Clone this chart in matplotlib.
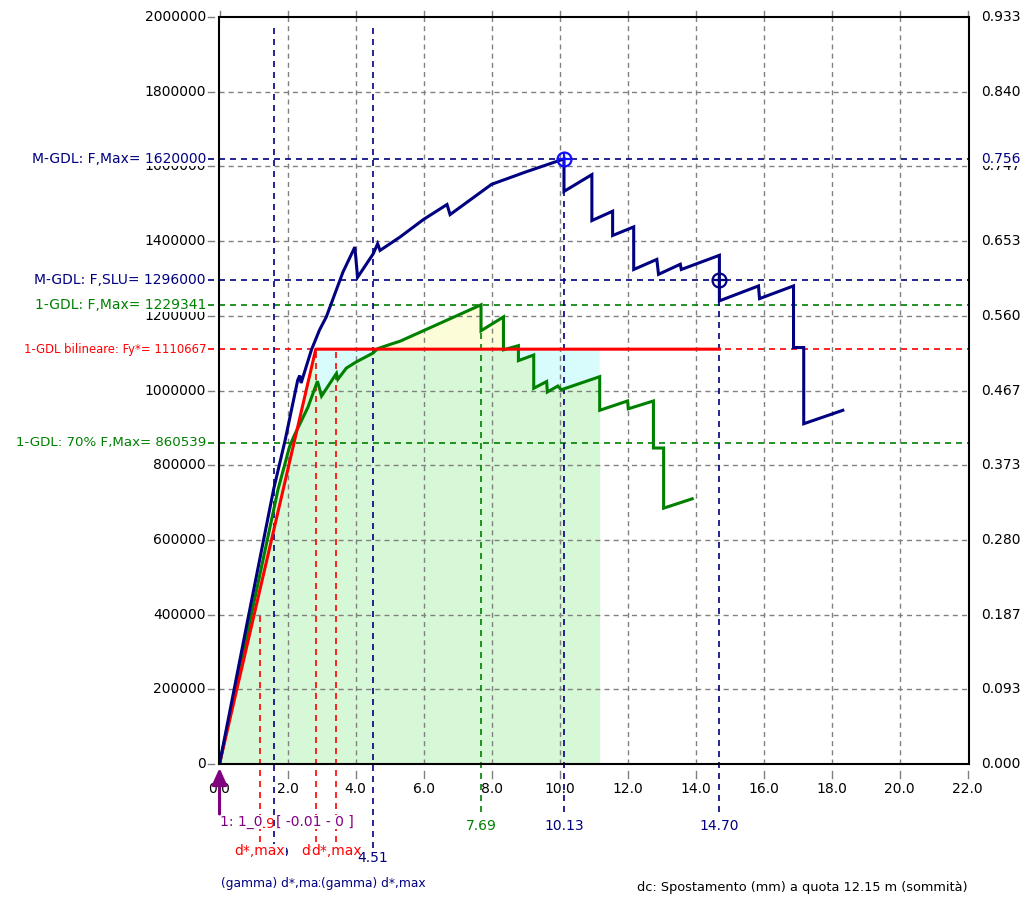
import numpy as np
import matplotlib
matplotlib.use('Agg')
import matplotlib.pyplot as plt

# ---------------- data ----------------
mgdl_x = [0, 0.8, 1.59, 1.93, 2.3, 2.36, 2.40, 2.7, 2.94, 3.14, 3.63, 3.98, 4.06,
          4.52, 4.65, 4.72, 5.31, 6.0, 6.69, 6.78, 8.0, 9.0, 10.13, 10.13, 10.95,
          10.95, 11.56, 11.56, 12.18, 12.18, 12.86, 12.91, 13.55, 13.58, 14.70,
          14.70, 15.85, 15.88, 16.88, 16.88, 17.18, 17.18, 18.33]
mgdl_f = [0, 372000, 735000, 867000, 1028000, 1040000, 1020000, 1108000, 1162000,
          1197000, 1317000, 1384000, 1303000, 1366000, 1393000, 1375000, 1411000,
          1458000, 1498000, 1471000, 1552000, 1585000, 1620000, 1533000, 1578000,
          1455000, 1480000, 1415000, 1438000, 1324000, 1351000, 1311000, 1338000,
          1324000, 1362000, 1240000, 1280000, 1246000, 1280000, 1115000, 1115000,
          911000, 947000]

gdl1_x = [0, 0.85, 1.72, 2.06, 2.2, 2.6, 2.88, 3.0, 3.44, 3.48, 3.73, 4.03, 4.51,
          4.65, 5.07, 5.31, 7.69, 7.69, 8.35, 8.35, 8.79, 8.79, 9.24, 9.24, 9.62,
          9.64, 9.95, 10.05, 11.18, 11.18, 12.0, 12.02, 12.76, 12.76, 13.06, 13.06,
          13.9]
gdl1_f = [0, 363000, 735000, 850000, 880000, 955000, 1025000, 985000, 1046000,
          1030000, 1060000, 1077000, 1100000, 1112000, 1125000, 1132000, 1229341,
          1160000, 1197000, 1109000, 1120000, 1080000, 1095000, 1006000, 1024000,
          996000, 1012000, 1002000, 1037000, 947000, 972000, 951000, 972000,
          846000, 846000, 685000, 710000]

fy_star = 1110667      # 1-GDL bilineare Fy*
dy_star = 2.83         # yield displacement of bilinear
du_bil = 14.70         # end of bilinear plateau
f_max_m, d_max_m = 1620000, 10.13
f_slu_m, d_slu_m = 1296000, 14.70
f_max_1, d_max_1 = 1229341, 7.69
f_70_1 = 860539
d_gamma = [1.59, 4.51]
d_red = [1.19, 2.83, 3.43]
fill_end = 11.18

x_ticks = [0, 2, 4, 6, 8, 10, 12, 14, 16, 18, 20, 22]
x_tick_labels = ['0.0', '2.0', '4.0', '6.0', '8.0', '10.0', '12.0', '14.0',
                 '16.0', '18.0', '20.0', '22.0']
y_ticks = [0, 200000, 400000, 600000, 800000, 1000000, 1200000, 1400000,
           1600000, 1800000, 2000000]
y_tick_labels = ['0', '200000', '400000', '600000', '800000', '1000000',
                 '1200000', '1400000', '1600000', '1800000', '2000000']
y2_tick_labels = ['0.000', '0.093', '0.187', '0.280', '0.373', '0.467', '0.560',
                  '0.653', '0.747', '0.840', '0.933']

# ---------------- colours ----------------
NAVY = '#000080'
BLUE = '#1010ff'
GREEN = '#008000'
RED = '#ff0000'
PURPLE = '#800080'
GRAY = '#808080'
FILL_GREEN = '#d6f8d6'
FILL_CYAN = '#d8fcfc'
FILL_YELLOW = '#fcfcd8'

plt.rcParams['font.family'] = ['DejaVu Sans']
FS = 10

W, H = 1026, 900
fig = plt.figure(figsize=(W / 100, H / 100), dpi=100)
L, R, T, B = 219, 969, 17, 764
ax = fig.add_axes([L / W, 1 - B / H, (R - L) / W, (B - T) / H])
ax.set_xlim(-0.015, 22.04)
ax.set_ylim(0, 2000000)
ax.set_xticks([])
ax.set_yticks([])
for s in ax.spines.values():
    s.set_color('black')
    s.set_linewidth(1.5)
    s.set_zorder(8)


def axx(px):
    return (px - L) / (R - L)


def axy(py):
    return (B - py) / (B - T)


xt = ax.get_xaxis_transform()
yt = ax.get_yaxis_transform()
ta = ax.transAxes
DASH = (0, (3.6, 3.0))

# ---------------- fills ----------------
gx = np.array(gdl1_x, dtype=float)
gf = np.array(gdl1_f, dtype=float)
k = int(np.where(gx >= fill_end)[0][0])
fx = gx[:k + 1]
ff = gf[:k + 1]
ax.fill_between(fx, 0, ff, color=FILL_GREEN, lw=0, zorder=1)
sel = fx >= dy_star
px_ = np.concatenate([[dy_star], fx[sel]])
pf_ = np.concatenate([[np.interp(dy_star, gx[5:7], gf[5:7])], ff[sel]])
ax.fill_between(px_, pf_, fy_star, where=pf_ <= fy_star, interpolate=True,
                color=FILL_CYAN, lw=0, zorder=1)
ax.fill_between(px_, fy_star, pf_, where=pf_ >= fy_star, interpolate=True,
                color=FILL_YELLOW, lw=0, zorder=1)
ax.fill_between([0, dy_star], [0, 0], [0, fy_star], color=FILL_GREEN, lw=0, zorder=1)

# ---------------- grid (extends outside the frame like ticks) ----------------
for x in x_ticks[1:-1]:
    ax.plot([x, x], [0, 1], transform=xt, color=GRAY, lw=1.0, ls=DASH, zorder=2)
for x in x_ticks:
    ax.plot([x, x], [axy(771), axy(778)], transform=xt, color=GRAY, lw=1.0,
            clip_on=False, zorder=2)
    ax.plot([x, x], [axy(11), axy(16)], transform=xt, color=GRAY, lw=1.0,
            clip_on=False, zorder=2)
for y in y_ticks[1:-1]:
    ax.plot([0, 1], [y, y], transform=yt, color=GRAY, lw=1.0, ls=DASH, zorder=2)
for y in y_ticks:
    ax.plot([axx(208), axx(214)], [y, y], transform=yt, color=GRAY, lw=1.0,
            clip_on=False, zorder=2)

# ---------------- reference lines ----------------
hlines = [(f_max_m, NAVY), (f_slu_m, NAVY), (f_max_1, GREEN), (fy_star, RED),
          (f_70_1, GREEN)]
for y, c in hlines:
    ax.plot([axx(208), 1.0], [y, y], transform=yt, color=c, lw=1.2, ls=DASH,
            clip_on=False, zorder=3)

for d in d_gamma:
    ax.plot([d, d], [axy(848), axy(24)], transform=xt, color=NAVY, lw=1.2,
            ls=DASH, clip_on=False, zorder=3)
ax.plot([d_red[0]] * 2, [axy(842), 400000 / 2e6], transform=xt, color=RED,
        lw=1.2, ls=DASH, clip_on=False, zorder=3)
for d in d_red[1:]:
    ax.plot([d, d], [axy(842), fy_star / 2e6], transform=xt, color=RED, lw=1.2,
            ls=DASH, clip_on=False, zorder=3)
ax.plot([d_max_1] * 2, [axy(812), f_max_1 / 2e6], transform=xt, color=GREEN,
        lw=1.2, ls=DASH, clip_on=False, zorder=3)
ax.plot([d_max_m] * 2, [axy(812), f_max_m / 2e6], transform=xt, color=NAVY,
        lw=1.2, ls=DASH, clip_on=False, zorder=3)
ax.plot([d_slu_m] * 2, [axy(812), f_slu_m / 2e6], transform=xt, color=NAVY,
        lw=1.2, ls=DASH, clip_on=False, zorder=3)

# ---------------- curves ----------------
ax.plot(gdl1_x, gdl1_f, color=GREEN, lw=2.2, zorder=5, solid_joinstyle='miter')
ax.plot([0, dy_star, du_bil], [0, fy_star, fy_star], color=RED, lw=2.2, zorder=6)
ax.plot(mgdl_x, mgdl_f, color=NAVY, lw=2.2, zorder=6, solid_joinstyle='miter')

ax.plot([d_max_m], [f_max_m], marker='o', ms=10, mfc='none', mec=BLUE, mew=1.6,
        zorder=7, clip_on=False)
ax.plot([d_max_m], [f_max_m], marker='+', ms=10, mec=BLUE, mew=1.6, zorder=7)
ax.plot([d_slu_m], [f_slu_m], marker='o', ms=10, mfc='none', mec=NAVY, mew=1.6,
        zorder=7)
ax.plot([d_slu_m], [f_slu_m], marker='+', ms=10, mec=NAVY, mew=1.6, zorder=7)

# ---------------- tick labels ----------------
WB = dict(facecolor='white', edgecolor='none', pad=0.15)
WB2 = dict(facecolor='white', edgecolor='none', pad=0.35)
for y, lab in zip(y_ticks, y_tick_labels):
    ax.text(axx(206), y, lab, transform=yt, ha='right', va='center', fontsize=FS,
            color='black', clip_on=False, zorder=9)
for y, lab in zip(y_ticks, y2_tick_labels):
    ax.text(axx(981), y, lab, transform=yt, ha='left', va='center', fontsize=FS,
            color='black', clip_on=False, zorder=9)
for x, lab in zip(x_ticks, x_tick_labels):
    ax.text(x, axy(789), lab, transform=xt, ha='center', va='center', fontsize=FS,
            color='black', clip_on=False, zorder=9)

left_labels = [(f_max_m, 'M-GDL: F,Max= 1620000', NAVY, FS),
               (f_slu_m, 'M-GDL: F,SLU= 1296000', NAVY, FS),
               (f_max_1, '1-GDL: F,Max= 1229341', GREEN, FS),
               (fy_star, '1-GDL bilineare: Fy*= 1110667', RED, 8.4),
               (f_70_1, '1-GDL: 70% F,Max= 860539', GREEN, 9.6)]
for y, lab, c, fs in left_labels:
    ax.text(axx(206), y, lab, transform=yt, ha='right', va='center', fontsize=fs,
            color=c, clip_on=False, zorder=10, bbox=WB)
ax.text(axx(981), f_max_m, '0.756', transform=yt, ha='left', va='center',
        fontsize=FS, color=NAVY, clip_on=False, zorder=10, bbox=WB)

# ---------------- bottom annotations ----------------
for d in d_red:
    ax.text(d, axy(824), '%.2f' % d, transform=xt, ha='center', va='center',
            fontsize=FS, color=RED, clip_on=False, zorder=9)
ax.text(axx(220), axy(822), '1: 1_0', transform=ta, ha='left', va='center',
        fontsize=FS, color=PURPLE, clip_on=False, zorder=10, bbox=WB2)
ax.text(axx(276), axy(822), '[ -0.01 - 0 ]', transform=ta, ha='left',
        va='center', fontsize=FS, color=PURPLE, clip_on=False, zorder=10, bbox=WB2)

ax.text(d_gamma[0], axy(853), '1.59', transform=xt, ha='center', va='center',
        fontsize=FS, color=NAVY, clip_on=False, zorder=9)
ax.text(d_red[0], axy(851), 'd*,max', transform=xt, ha='center', va='center',
        fontsize=FS, color=RED, clip_on=False, zorder=10, bbox=WB2)
ax.text(d_red[1], axy(851), 'd*,y', transform=xt, ha='center', va='center',
        fontsize=FS, color=RED, clip_on=False, zorder=10, bbox=WB)
ax.text(d_red[2], axy(851), 'd*,max', transform=xt, ha='center', va='center',
        fontsize=FS, color=RED, clip_on=False, zorder=10, bbox=WB)
ax.text(d_gamma[1], axy(858), '4.51', transform=xt, ha='center', va='center',
        fontsize=FS, color=NAVY, clip_on=False, zorder=10)
ax.text(d_gamma[0], axy(883), '(gamma) d*,max', transform=xt, ha='center',
        va='center', fontsize=8.8, color=NAVY, clip_on=False, zorder=10, bbox=WB)
ax.text(d_gamma[1], axy(883), '(gamma) d*,max', transform=xt, ha='center',
        va='center', fontsize=8.8, color=NAVY, clip_on=False, zorder=10, bbox=WB)

ax.text(d_max_1, axy(826), '7.69', transform=xt, ha='center', va='center',
        fontsize=FS, color=GREEN, clip_on=False, zorder=10)
ax.text(d_max_m, axy(826), '10.13', transform=xt, ha='center', va='center',
        fontsize=FS, color=NAVY, clip_on=False, zorder=10)
ax.text(d_slu_m, axy(826), '14.70', transform=xt, ha='center', va='center',
        fontsize=FS, color=NAVY, clip_on=False, zorder=10)

fig.text(968 / W, 1 - 887 / H, 'dc: Spostamento (mm) a quota 12.15 m (sommità)',
         ha='right', va='center', fontsize=9.3, color='black')

ax.annotate('', xy=(0, axy(768)), xytext=(0, axy(814)), xycoords=xt,
            textcoords=xt,
            arrowprops=dict(arrowstyle='-|>,head_width=0.45,head_length=1.0',
                            color=PURPLE, lw=2.2, shrinkA=0, shrinkB=0),
            annotation_clip=False, zorder=11)

fig.savefig('out.png', dpi=100)
